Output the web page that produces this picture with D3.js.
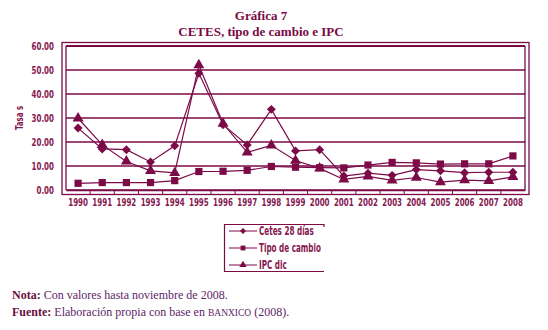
<!DOCTYPE html>
<html>
<head>
<meta charset="utf-8">
<script src="https://cdn.jsdelivr.net/npm/d3@7"></script>
<style>
  body { margin: 0; background: #fff; }
  svg { display: block; }
</style>
</head>
<body>
<div id="chart-area"></div>
<script>
// data
var years = ["1990","1991","1992","1993","1994","1995","1996","1997","1998","1999",
             "2000","2001","2002","2003","2004","2005","2006","2007","2008"];
var cetes = [25.8, 17.1, 16.8, 11.7, 18.4, 48.6, 27.2, 18.8, 33.6, 16.3,
             16.8, 5.8, 7.0, 6.1, 8.5, 8.0, 7.2, 7.4, 7.4];
var tipoCambio = [2.8, 3.1, 3.1, 3.1, 3.9, 7.7, 7.8, 8.2, 9.8, 9.5,
                  9.3, 9.2, 10.4, 11.5, 11.3, 10.8, 10.9, 10.9, 14.2];
var ipc = [29.9, 18.8, 11.9, 8.0, 7.1, 52.0, 27.7, 15.7, 18.6, 12.3,
           9.0, 4.4, 5.7, 4.0, 5.2, 3.3, 4.1, 3.8, 5.5];
var yTicks = [0, 10, 20, 30, 40, 50, 60];

var series = [
    { name: "Cetes 28 días", values: cetes, symbol: d3.symbolSquare, size: 40, rotate: 45 },
    { name: "Tipo de cambio", values: tipoCambio, symbol: d3.symbolSquare, size: 52, rotate: 0 },
    { name: "IPC dic", values: ipc, symbol: d3.symbolTriangle, size: 52, rotate: 0 }
];

var width = 548;
var height = 330;
var plot = { left: 66, top: 46, right: 525, bottom: 190 };
var maroon = "#7b0a47";
var labelColor = "#86184f";
var narrow = "'DejaVu Sans Condensed', 'DejaVu Sans', sans-serif";
var squeeze = 0.72;   // horizontal squeeze to mimic the narrow face of the original

var svg = d3.select("#chart-area")
    .append("svg")
    .attr("width", width)
    .attr("height", height);

// titles
svg.append("text")
    .attr("x", 261).attr("y", 20)
    .attr("text-anchor", "middle")
    .attr("font-family", "'Liberation Serif', serif")
    .attr("font-weight", "bold")
    .attr("font-size", "13px")
    .attr("fill", "#7a0a45")
    .text("Gráfica 7");

svg.append("text")
    .attr("x", 261).attr("y", 36)
    .attr("text-anchor", "middle")
    .attr("font-family", "'Liberation Serif', serif")
    .attr("font-weight", "bold")
    .attr("font-size", "13px")
    .attr("fill", "#7a0a45")
    .text("CETES, tipo de cambio e IPC");

var x = d3.scaleBand()
    .domain(years)
    .range([plot.left, plot.right]);

var y = d3.scaleLinear()
    .domain([0, 60])
    .range([plot.bottom, plot.top]);

// outer frame
svg.append("rect")
    .attr("x", 62).attr("y", 42.5)
    .attr("width", 467).attr("height", 152)
    .attr("fill", "none")
    .attr("stroke", maroon)
    .attr("stroke-width", 1.3);

// grid lines
svg.append("g")
    .selectAll("line")
    .data(yTicks)
    .enter()
    .append("line")
    .attr("x1", plot.left)
    .attr("x2", plot.right)
    .attr("y1", d => y(d))
    .attr("y2", d => y(d))
    .attr("stroke", maroon)
    .attr("stroke-width", d => d === 60 ? 2.2 : 1.4);

// inner plot border
svg.append("line")
    .attr("x1", plot.left).attr("x2", plot.left)
    .attr("y1", plot.top).attr("y2", plot.bottom)
    .attr("stroke", maroon).attr("stroke-width", 1.3);
svg.append("line")
    .attr("x1", plot.right).attr("x2", plot.right)
    .attr("y1", plot.top).attr("y2", plot.bottom)
    .attr("stroke", maroon).attr("stroke-width", 1.3);

// y axis
var yAxis = d3.axisLeft(y)
    .tickValues(yTicks)
    .tickSize(0)
    .tickFormat(d3.format(".2f"));
var gy = svg.append("g")
    .attr("transform", `translate(${plot.left}, 0)`)
    .call(yAxis);
gy.select(".domain").remove();
gy.selectAll("text")
    .attr("x", -12 / squeeze)
    .attr("transform", `scale(${squeeze}, 1)`)
    .attr("font-family", narrow)
    .attr("font-weight", "bold")
    .attr("font-size", "11px")
    .attr("fill", labelColor);

// x axis
var xAxis = d3.axisBottom(x).tickSize(0).tickPadding(8);
var gx = svg.append("g")
    .attr("transform", `translate(0, ${plot.bottom})`)
    .call(xAxis);
gx.select(".domain")
    .attr("stroke", maroon)
    .attr("stroke-width", 1.3);
gx.selectAll("text")
    .attr("transform", `scale(${squeeze}, 1)`)
    .attr("font-family", narrow)
    .attr("font-weight", "bold")
    .attr("font-size", "11px")
    .attr("fill", labelColor);

// tick marks between categories
svg.append("g")
    .selectAll("line")
    .data(years.slice(1))
    .enter()
    .append("line")
    .attr("x1", d => x(d))
    .attr("x2", d => x(d))
    .attr("y1", plot.bottom)
    .attr("y2", plot.bottom + 4)
    .attr("stroke", maroon)
    .attr("stroke-width", 1);

// y title
svg.append("text")
    .attr("transform", `translate(23, 118) rotate(-90) scale(0.75, 1)`)
    .attr("text-anchor", "middle")
    .attr("font-family", narrow)
    .attr("font-weight", "bold")
    .attr("font-size", "10.5px")
    .attr("fill", labelColor)
    .text("Tasa s");

// lines and markers
var line = d3.line()
    .x((d, i) => x(years[i]) + x.bandwidth() / 2)
    .y(d => y(d));

series.forEach(s => {
    svg.append("path")
        .datum(s.values)
        .attr("d", line)
        .attr("fill", "none")
        .attr("stroke", maroon)
        .attr("stroke-width", 1.2);

    svg.append("g")
        .selectAll("path")
        .data(s.values)
        .enter()
        .append("path")
        .attr("d", d3.symbol().type(s.symbol).size(s.size))
        .attr("transform", (d, i) => `translate(${x(years[i]) + x.bandwidth() / 2}, ${y(d)}) rotate(${s.rotate})`)
        .attr("fill", maroon);
});

// legend
var legend = svg.append("g");
legend.append("path")
    .attr("d", "M324,227 V224.5 H224.5 V271.5 H324")
    .attr("fill", "none")
    .attr("stroke", maroon)
    .attr("stroke-width", 1.2);

var legendRow = d3.scalePoint()
    .domain(series.map(s => s.name))
    .range([231, 265]);

series.forEach(s => {
    var ly = legendRow(s.name);
    legend.append("line")
        .attr("x1", 229).attr("x2", 257)
        .attr("y1", ly).attr("y2", ly)
        .attr("stroke", maroon)
        .attr("stroke-width", 1);
    legend.append("path")
        .attr("d", d3.symbol().type(s.symbol).size(s.size * 0.45))
        .attr("transform", `translate(243, ${ly}) rotate(${s.rotate})`)
        .attr("fill", maroon);
    legend.append("text")
        .attr("transform", `translate(259, ${ly + 4}) scale(0.7, 1)`)
        .attr("font-family", narrow)
        .attr("font-weight", "bold")
        .attr("font-size", "11.5px")
        .attr("fill", labelColor)
        .text(s.name);
});

// notes
var notes = [
    { label: "Nota:", text: "Con valores hasta noviembre de 2008.", y: 299 },
    { label: "Fuente:", text: "Elaboración propia con base en ", sc: "banxico", tail: " (2008).", y: 316 }
];
notes.forEach(n => {
    var t = svg.append("text")
        .attr("x", 12).attr("y", n.y)
        .attr("font-family", "'Liberation Serif', serif")
        .attr("font-size", "12px")
        .attr("fill", "#5e2468");
    t.append("tspan")
        .attr("font-weight", "bold")
        .attr("fill", "#6a0f3f")
        .text(n.label + " ");
    t.append("tspan").text(n.text);
    if (n.sc) {
        t.append("tspan").attr("font-size", "9.5px").text(n.sc.toUpperCase());
        t.append("tspan").text(n.tail);
    }
});
</script>
</body>
</html>
